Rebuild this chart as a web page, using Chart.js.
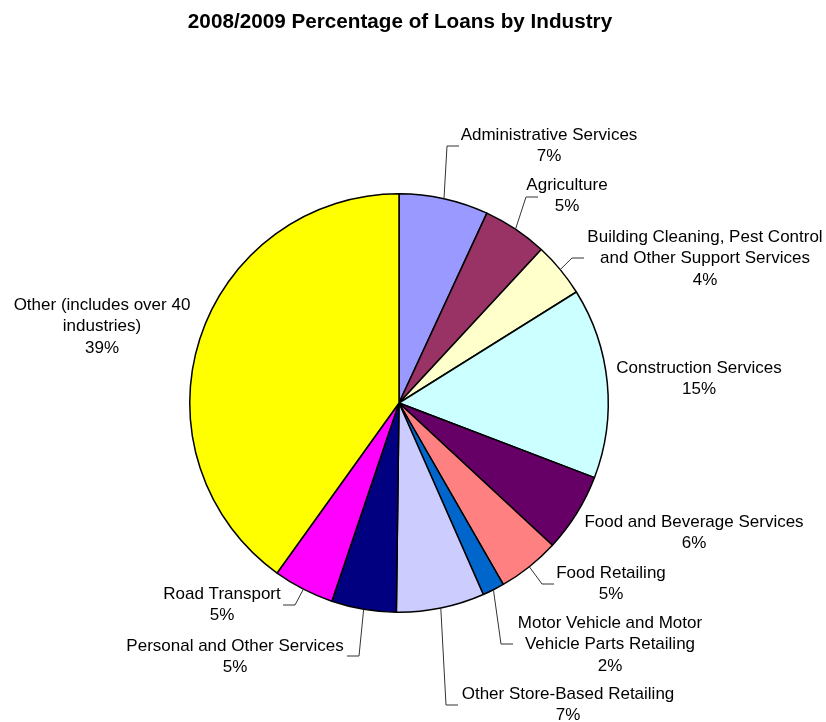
<!DOCTYPE html>
<html>
<head>
<meta charset="utf-8">
<script src="https://cdn.jsdelivr.net/npm/chart.js@4"></script>
<style>
  html, body { margin: 0; padding: 0; background: #fff; }
  #wrap { width: 826px; height: 722px; }
</style>
</head>
<body>
<div id="wrap"><canvas id="pie" width="826" height="722"></canvas></div>
<script>
// data (share of loans, %)
const industries = [
  ['Administrative Services'],
  ['Agriculture'],
  ['Building Cleaning, Pest Control', 'and Other Support Services'],
  ['Construction Services'],
  ['Food and Beverage Services'],
  ['Food Retailing'],
  ['Motor Vehicle and Motor', 'Vehicle Parts Retailing'],
  ['Other Store-Based Retailing'],
  ['Personal and Other Services'],
  ['Road Transport'],
  ['Other (includes over 40', 'industries)'],
];
// slice sizes measured from the slice angles
const shares = [6.9, 5.0, 4.2, 14.7, 6.1, 4.8, 1.7, 6.8, 5.0, 4.7, 40.1];
// percentages as printed on the chart
const pctLabels = ['7%', '5%', '4%', '15%', '6%', '5%', '2%', '7%', '5%', '5%', '39%'];
const sliceColors = [
  '#9999FF', '#993366', '#FFFFCC', '#CCFFFF', '#660066', '#FF8080',
  '#0066CC', '#CCCCFF', '#000080', '#FF00FF', '#FFFF00',
];

// where each label sits (centre x, first line y) and where its leader ends
const labelPos = [
  { x: 549, y: 135, end: [459, 146], dir: -1 },
  { x: 567, y: 185, end: [538, 197], dir: -1 },
  { x: 705, y: 237, end: [584, 258], dir: -1 },
  { x: 699, y: 368, end: null },
  { x: 694, y: 522, end: null },
  { x: 611, y: 573, end: [554, 584], dir: -1 },
  { x: 610, y: 623, end: [513, 644], dir: -1 },
  { x: 568, y: 694, end: [458, 705], dir: -1 },
  { x: 235, y: 646, end: [347, 656], dir: 1 },
  { x: 222, y: 594, end: [283, 605], dir: 1 },
  { x: 102, y: 305, end: null },
];

const FONT = '"Liberation Sans", Arial, sans-serif';

const labelPlugin = {
  id: 'excelLabels',
  afterDraw(chart) {
    const ctx = chart.ctx;
    const arcs = chart.getDatasetMeta(0).data;
    ctx.save();

    // title
    ctx.fillStyle = '#000';
    ctx.font = 'bold 20.7px ' + FONT;
    ctx.textAlign = 'center';
    ctx.textBaseline = 'middle';
    ctx.fillText('2008/2009 Percentage of Loans by Industry', 400, 22);

    // leader lines
    ctx.strokeStyle = '#333';
    ctx.lineWidth = 1;
    arcs.forEach((arc, i) => {
      const p = labelPos[i];
      if (!p.end) return;
      const mid = (arc.startAngle + arc.endAngle) / 2;
      const sx = arc.x + Math.cos(mid) * arc.outerRadius;
      const sy = arc.y + Math.sin(mid) * arc.outerRadius;
      const ex = p.end[0], ey = p.end[1];
      const kx = ex + p.dir * 12;
      ctx.beginPath();
      ctx.moveTo(sx, sy);
      ctx.lineTo(kx, ey);
      ctx.lineTo(ex, ey);
      ctx.stroke();
    });

    // labels
    ctx.font = '17px ' + FONT;
    ctx.fillStyle = '#000';
    industries.forEach((lines, i) => {
      const p = labelPos[i];
      lines.concat([pctLabels[i]]).forEach((t, k) => ctx.fillText(t, p.x, p.y + k * 21.5));
    });
    ctx.restore();
  },
};

new Chart(document.getElementById('pie'), {
  type: 'pie',
  data: {
    labels: industries.map(l => l.join(' ')),
    datasets: [{
      data: shares,
      backgroundColor: sliceColors,
      borderColor: '#000',
      borderWidth: 1.5,
    }],
  },
  options: {
    responsive: false,
    animation: false,
    devicePixelRatio: 1,
    layout: { padding: { left: 189, right: 217, top: 193, bottom: 109 } },
    plugins: {
      legend: { display: false },
      title: { display: false },
      tooltip: { enabled: false },
    },
  },
  plugins: [labelPlugin],
});
</script>
</body>
</html>
